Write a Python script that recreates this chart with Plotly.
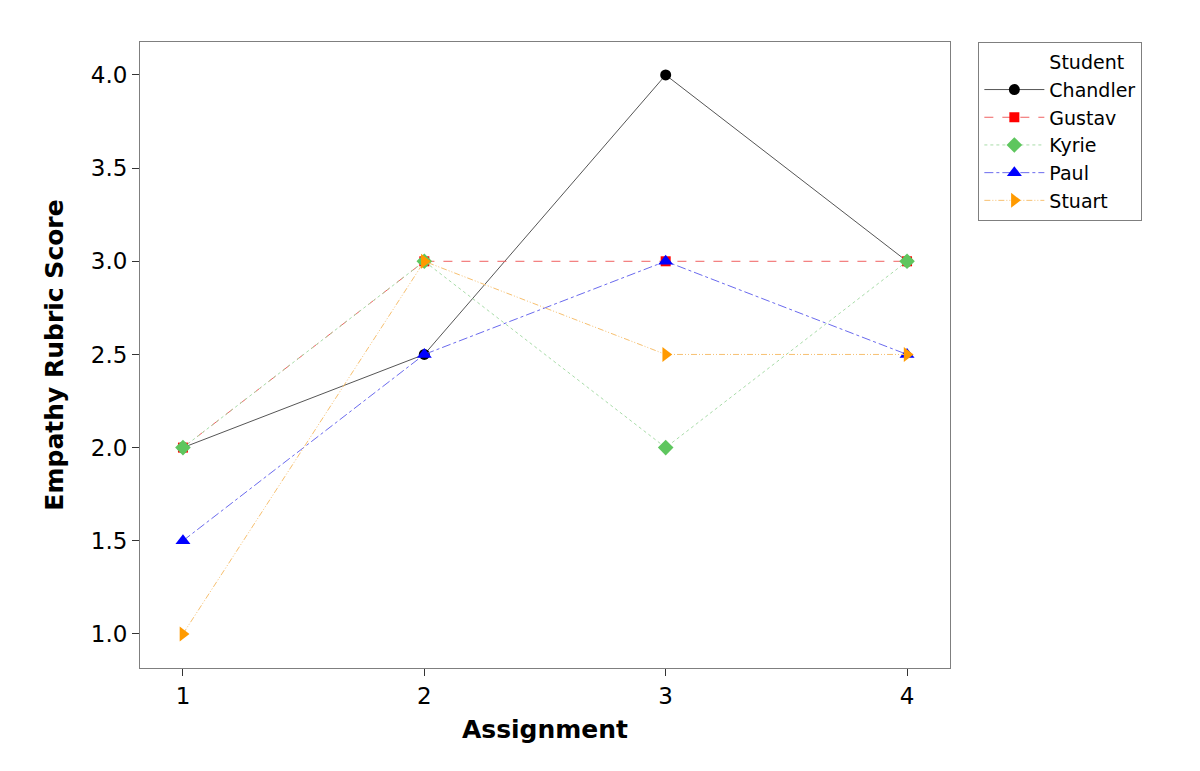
import plotly.graph_objects as go

ASSIGNMENTS = [1, 2, 3, 4]

STUDENTS = ["Chandler", "Gustav", "Kyrie", "Paul", "Stuart"]
CHANDLER = [2.0, 2.5, 4.0, 3.0]
GUSTAV = [2.0, 3.0, 3.0, 3.0]
KYRIE = [2.0, 3.0, 2.0, 3.0]
PAUL = [1.5, 2.5, 3.0, 2.5]
STUART = [1.0, 3.0, 2.5, 2.5]

X_TICKS = [1, 2, 3, 4]
Y_TICKS = [1.0, 1.5, 2.0, 2.5, 3.0, 3.5, 4.0]

FONT = "DejaVu Sans"
FRAME_COLOR = "#7f7f7f"

STYLES = {
    "Chandler": dict(line="#555555", marker="#000000", dash="solid", symbol="circle", size=11),
    "Gustav": dict(line="#f06060", marker="#ff0000", dash="dash", symbol="square", size=10),
    "Kyrie": dict(line="#a8dca8", marker="#5ec65e", dash="dot", symbol="diamond", size=12),
    "Paul": dict(line="#6a6aee", marker="#0000ff", dash="dashdot", symbol="triangle-up", size=13),
    "Stuart": dict(line="#f7c070", marker="#ff9a00", dash="6px,2px,1px,2px,1px,2px", symbol="triangle-right", size=13),
}


def create_figure():
    figure = go.Figure()

    # blank entry used as the legend heading
    figure.add_trace(
        go.Scatter(
            x=[None],
            y=[None],
            mode="lines",
            name="Student",
            line=dict(width=0, color="rgba(0,0,0,0)"),
            hoverinfo="skip",
        )
    )

    for name, values in zip(STUDENTS, [CHANDLER, GUSTAV, KYRIE, PAUL, STUART]):
        s = STYLES[name]
        figure.add_trace(
            go.Scatter(
                x=ASSIGNMENTS,
                y=values,
                name=name,
                mode="lines+markers",
                line=dict(color=s["line"], width=1, dash=s["dash"]),
                marker=dict(color=s["marker"], symbol=s["symbol"], size=s["size"], line=dict(width=0)),
            )
        )

    figure.update_xaxes(
        range=[0.822, 4.178],
        tickvals=X_TICKS,
        ticktext=[str(v) for v in X_TICKS],
        ticks="outside",
        ticklen=7,
        tickcolor="#333333",
        showgrid=False,
        zeroline=False,
        showline=True,
        linecolor=FRAME_COLOR,
        mirror=True,
        tickfont=dict(family=FONT, size=23, color="black"),
        title=dict(text="<b>Assignment</b>", font=dict(family=FONT, size=25, color="black"), standoff=12),
    )
    figure.update_yaxes(
        range=[0.817, 4.177],
        tickvals=Y_TICKS,
        ticktext=["{0:.1f}".format(v) for v in Y_TICKS],
        ticks="outside",
        ticklen=7,
        tickcolor="#333333",
        showgrid=False,
        zeroline=False,
        showline=True,
        linecolor=FRAME_COLOR,
        mirror=True,
        tickfont=dict(family=FONT, size=23, color="black"),
        title=dict(text="<b>Empathy Rubric Score</b>", font=dict(family=FONT, size=25, color="black"), standoff=20),
    )
    figure.update_layout(
        width=1200,
        height=771,
        margin=dict(l=132, r=258, t=34, b=111),
        plot_bgcolor="white",
        paper_bgcolor="white",
        showlegend=True,
        legend=dict(
            x=1.035,
            y=1.0,
            xanchor="left",
            yanchor="top",
            bordercolor=FRAME_COLOR,
            borderwidth=1,
            font=dict(family=FONT, size=19, color="black"),
            tracegroupgap=0,
            itemwidth=60,
        ),
    )
    return figure


if __name__ == "__main__":
    fig = create_figure()
    fig.write_html("out.html")
